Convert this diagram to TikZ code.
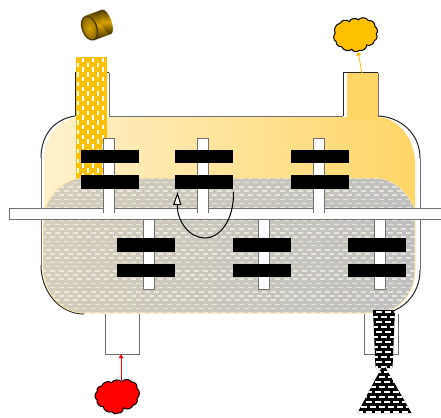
\documentclass[tikz,border=0pt]{standalone}
\usetikzlibrary{arrows.meta,shadings}
\definecolor{liqL}{HTML}{D3CDBB}
\definecolor{liqR}{HTML}{BFBFBF}
\definecolor{cream}{HTML}{FFF1CC}
\definecolor{gold}{HTML}{FFD566}
\definecolor{ore}{HTML}{FFC000}
\definecolor{edge}{HTML}{707070}
\tikzset{
  outline/.style={draw=edge,line width=1pt},
  arcline/.style={draw=black!85,line width=1pt},
  paddle/.style={fill=black,draw=none},
  stem/.style={draw=edge,line width=0.8pt},
  lobes/.style={draw=black,line width=1pt,bend left=55},
  feed/.style={line width=0.8pt}
}
\def\liqpath{(43,265) -- (44,212) .. controls (50,194) and (62,179) .. (85,178) -- (378,178)
  .. controls (396,180) and (409,194) .. (415,210) -- (415,270)
  .. controls (415,295) and (397,313) .. (375,313) -- (84,313) .. controls (60,313) and (43,292) .. (43,265) -- cycle}
\begin{document}
\begin{tikzpicture}[x=1pt,y=-1pt]
\useasboundingbox (0,0) rectangle (441,417);
% body fill
\shade[left color=cream,right color=gold] (75,118) .. controls (57,121) and (44,137) .. (44,160) -- (44,215) -- (415,215) -- (415,160)
  .. controls (413,136) and (397,118) .. (378,117) -- (75,117) -- cycle;
\fill[gold] (347,73.5) rectangle (377.5,120);
% nozzles
\draw[arcline] (75,116) -- (75,73) -- (109,73);
\draw[outline] (109,73) -- (109,116) -- (343,116);
\draw[arcline] (343,116) -- (343,73) -- (378,73);
\draw[outline] (378,73) -- (378,116);
\draw[outline] (105,314) -- (105,354) -- (139,354) -- (139,314);
\draw[outline] (364,314) -- (364,354) -- (398,354) -- (398,314);
% vessel outline
\draw[arcline] (75,116) .. controls (55,119) and (41,134) .. (41,158);
\draw[arcline] (378,116) .. controls (401,117) and (420,134) .. (420,158);
\draw[outline] (41,158) -- (41,265);
\draw[outline] (420,158) -- (420,270);
\draw[arcline] (41,265) .. controls (41,292) and (60,314) .. (84,314);
\draw[arcline] (420,270) .. controls (420,295) and (402,313) .. (378,314);
% ore column
\fill[ore] (76,57) rectangle (107,200);
\begin{scope}
\clip (76,57) rectangle (107,200);
\foreach \c in {0,...,6}{
  \pgfmathsetmacro\cx{77+5*\c}
  \pgfmathsetmacro\cy{mod(\c,2)*4.8+53}
  \foreach \r in {0,...,15}{
    \fill[white] (\cx,\cy+9.6*\r) rectangle (\cx+1.8,\cy+9.6*\r+4.4);
  }
}
\end{scope}
% liquid
\shade[left color=liqL,middle color=liqL!85!liqR,right color=liqR] \liqpath;
\begin{scope}
\clip \liqpath;
\foreach \r in {0,...,32}{
  \pgfmathsetmacro\ry{177.6+4.2*\r}
  \pgfmathsetmacro\off{mod(\r,2)*4.5+41}
  \foreach \k in {0,...,42}{
    \fill[white!70!cream,opacity=0.62] (\off+9*\k,\ry) rectangle (\off+9*\k+5,\ry+1.5);
  }
}
\end{scope}
\draw[gold!55!cream,line width=0.6pt] \liqpath;
% shaft
\fill[white] (9,208.5) rectangle (441,219);
\draw[stem] (441,208.5) -- (9,208.5) -- (9,219) -- (441,219);
% stems
\foreach \sx in {103,197,313}{
  \fill[white] (\sx,138) rectangle (\sx+11,214);
  \draw[stem] (\sx,213) -- (\sx,138) -- (\sx+11,138) -- (\sx+11,213);
}
\foreach \sx in {143,258,374}{
  \fill[white] (\sx,219.5) rectangle (\sx+11,289);
  \draw[stem] (\sx,219) -- (\sx,289) -- (\sx+11,289) -- (\sx+11,219);
}
% paddles
\foreach \px in {81,175,291}{
  \fill[paddle] (\px,150) rectangle (\px+58,163);
  \fill[paddle] (\px,175) rectangle (\px+58,189);
}
\foreach \px in {117,233,348}{
  \fill[paddle] (\px,238) rectangle (\px+58,252);
  \fill[paddle] (\px,264) rectangle (\px+58,277);
}
% rotation arrow
\coordinate (rotA) at (233.5,192);
\coordinate (rotB) at (177.5,192);
\draw[black,line width=1pt,-{Triangle[open,fill=white,length=13pt,width=8pt]}] (rotA) .. controls (234,220) and (220,238) .. (205,238) .. controls (190,238) and (177,222) .. (rotB);
% discharge
\fill[black] (373,310) -- (395,310) -- (392.5,368) -- (375.5,368) -- cycle;
\begin{scope}
\clip (373,310) -- (395,310) -- (392.5,368) -- (375.5,368) -- cycle;
\foreach \r in {0,...,11}{
  \pgfmathsetmacro\ry{311+5*\r}
  \pgfmathsetmacro\off{mod(\r,2)*4.5+367}
  \foreach \k in {0,...,3}{\fill[white] (\off+9*\k,\ry) rectangle (\off+9*\k+6,\ry+1.5);}
}
\end{scope}
\fill[black] (383.5,364) -- (411.5,413) -- (357.5,413) -- cycle;
\begin{scope}
\clip (383.5,364) -- (411.5,413) -- (357.5,413) -- cycle;
\foreach \r in {0,...,9}{
  \pgfmathsetmacro\ry{366+5*\r}
  \pgfmathsetmacro\off{mod(\r,2)*4.5+352}
  \foreach \k in {0,...,7}{\fill[white] (\off+9*\k,\ry) rectangle (\off+9*\k+6,\ry+1.5);}
}
\end{scope}
% clouds
\draw[lobes,fill=ore] (340,23.3) to (349.3,21.7) to (358.3,19.8) to (368.3,20.5) to (375,26.7) to (376.2,34) to (374.3,40.7) to (366.7,45) to (359.3,50.3) to (351.7,49.3) to (341.7,46.7) to (336.2,41.7) to (335.2,33.3) to (340,23.3);
\draw[lobes,fill=red] (101.7,386) to (111.7,382.7) to (121.7,381.9) to (131.7,381.9) to (137,388.3) to (137,398.3) to (133.3,405) to (123.3,407.7) to (118.3,413) to (111.7,411.7) to (103.3,406.7) to (97,400) to (97,391.7) to (101.7,386);
\coordinate (outcloud) at (358,51.5);
\coordinate (incloud) at (121,381.5);
\coordinate (outtop) at (362,73);
\coordinate (inbot) at (121,354);
\draw[feed,draw=ore,-{Latex[length=4pt,width=5.5pt]}] (outtop) -- (outcloud);
\draw[feed,draw=red,-{Latex[length=4pt,width=5.5pt]}] (incloud) -- (inbot);
% pellet
\begin{scope}[rotate around={20:(98,25)}]
\shade[top color=black!75!ore,bottom color=black!80!ore,middle color=ore!85!black] (89,12) rectangle (107,38);
\shade[top color=black!75!ore,bottom color=black!80!ore,middle color=ore!85!black] (107,25) ellipse (5pt and 13pt);
\fill[black!70!ore] (89,25) ellipse (8pt and 13pt);
\shade[inner color=ore!85!black,outer color=black!45!ore] (89,25) ellipse (6.5pt and 11.5pt);
\end{scope}
\end{tikzpicture}
\end{document}
